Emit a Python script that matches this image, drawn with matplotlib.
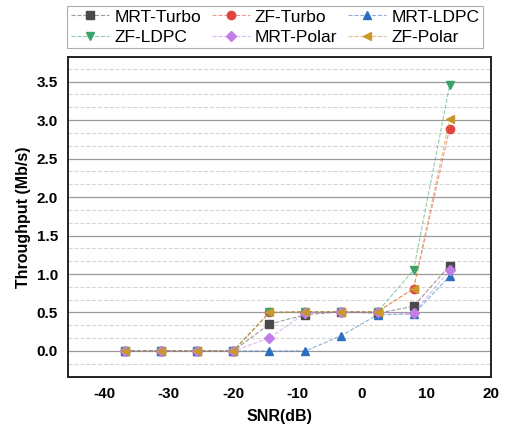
import matplotlib
matplotlib.use('Agg')
import matplotlib.pyplot as plt
from matplotlib.colors import to_rgba
from matplotlib.ticker import MultipleLocator

plt.rcParams['font.family'] = ['Liberation Sans', 'DejaVu Sans']
plt.rcParams['axes.unicode_minus'] = False

# SNR points (dB)
snr = [-36.8, -31.2, -25.6, -20.0, -14.4, -8.8, -3.2, 2.4, 8.0, 13.6]

# throughput per scheme (Mb/s)
mrt_turbo = [0, 0, 0, 0, 0.35, 0.47, 0.51, 0.49, 0.58, 1.11]
zf_turbo = [0, 0, 0, 0, 0.50, 0.51, 0.51, 0.51, 0.81, 2.89]
mrt_ldpc = [0, 0, 0, 0, 0.0, 0.0, 0.20, 0.47, 0.48, 0.97]
zf_ldpc = [0, 0, 0, 0, 0.50, 0.51, 0.51, 0.51, 1.05, 3.45]
mrt_polar = [0, 0, 0, 0, 0.17, 0.49, 0.51, 0.50, 0.49, 1.05]
zf_polar = [0, 0, 0, 0, 0.50, 0.51, 0.51, 0.51, 0.81, 3.01]

series = [
    ('MRT-Turbo', mrt_turbo, '#4a4a4a', 's'),
    ('ZF-Turbo', zf_turbo, '#e0463f', 'o'),
    ('MRT-LDPC', mrt_ldpc, '#2c6fc0', '^'),
    ('ZF-LDPC', zf_ldpc, '#3aa367', 'v'),
    ('MRT-Polar', mrt_polar, '#c27ee6', 'D'),
    ('ZF-Polar', zf_polar, '#c9982c', '<'),
]

fig = plt.figure(figsize=(5.06, 4.32), dpi=100)
ax = fig.add_axes([0.134, 0.127, 0.836, 0.741])

handles = []
for name, vals, color, mk in series:
    ms = 5.0 if mk == 'D' else 6.0
    h, = ax.plot(snr, vals, linestyle='--', linewidth=0.8,
                 color=to_rgba(color, 0.55),
                 marker=mk, markersize=ms, markerfacecolor=color,
                 markeredgecolor=color, label=name)
    handles.append(h)

ax.set_xlim(-45.7, 20)
ax.set_ylim(-0.34, 3.82)
ax.xaxis.set_major_locator(MultipleLocator(10))
ax.yaxis.set_major_locator(MultipleLocator(0.5))
ax.yaxis.set_minor_locator(MultipleLocator(0.5 / 3))
ax.yaxis.set_major_formatter(plt.FormatStrFormatter('%.1f'))

ax.grid(axis='y', which='major', color='#9a9a9a', linewidth=0.9, linestyle='-')
ax.grid(axis='y', which='minor', color='#d6d6d6', linewidth=0.8, linestyle='--')
ax.set_axisbelow(True)

ax.tick_params(axis='both', which='both', length=0, pad=7)
for lbl in ax.get_xticklabels() + ax.get_yticklabels():
    lbl.set_fontweight('bold')
    lbl.set_fontsize(11)

for sp in ax.spines.values():
    sp.set_linewidth(1.4)
    sp.set_color('#222222')

ax.set_xlabel('SNR(dB)', fontsize=11.5, fontweight='bold', labelpad=6)
ax.set_ylabel('Throughput (Mb/s)', fontsize=11.5, fontweight='bold', labelpad=4)

# legend filled row by row
order = [0, 3, 1, 4, 2, 5]
leg = ax.legend([handles[i] for i in order], [series[i][0] for i in order],
                loc='lower center', bbox_to_anchor=(0.49, 1.0), ncol=3,
                numpoints=1, fontsize=12.5, frameon=True, fancybox=False,
                edgecolor='#9a9a9a', handlelength=2.2, handletextpad=0.3,
                columnspacing=0.6, borderpad=0.2, labelspacing=0.3)
leg.get_frame().set_linewidth(0.8)

fig.savefig('out.png', dpi=100)
